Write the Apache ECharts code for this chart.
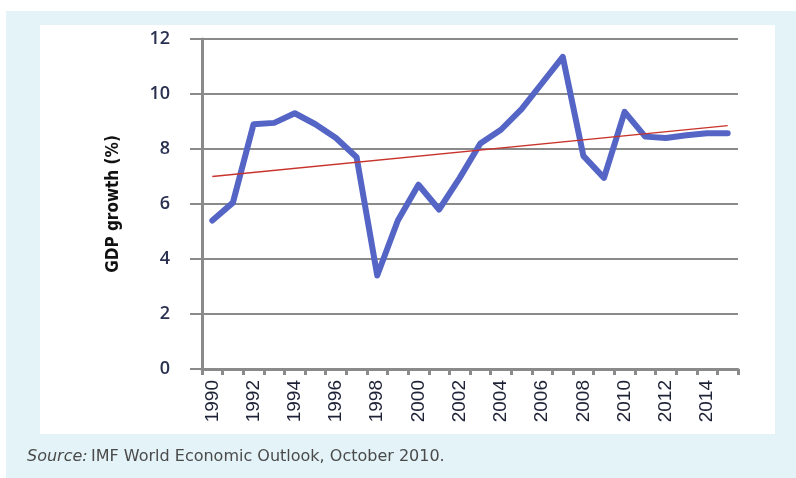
<!DOCTYPE html>
<html>
<head>
<meta charset="utf-8">
<script src="https://cdn.jsdelivr.net/npm/echarts@6/dist/echarts.min.js"></script>
<style>
  html, body { margin: 0; padding: 0; background: #fff; }
  #chart { width: 796px; height: 478px; }
</style>
</head>
<body>
<div id="chart"></div>
<script>
// years on the x axis
var years = ['1990','1991','1992','1993','1994','1995','1996','1997','1998','1999',
  '2000','2001','2002','2003','2004','2005','2006','2007','2008','2009',
  '2010','2011','2012','2013','2014','2015'];
// GDP growth (%)
var growth = [5.4, 6.05, 8.9, 8.95, 9.3, 8.9, 8.4, 7.7, 3.4, 5.4,
  6.7, 5.8, 6.95, 8.2, 8.7, 9.45, 10.4, 11.35, 7.75, 6.95,
  9.35, 8.45, 8.4, 8.5, 8.57, 8.57];
// trend line end points (first and last year)
var trendEnds = [7.0, 8.85];
var yTicks = [0, 2, 4, 6, 8, 10, 12];

var chart = echarts.init(document.getElementById('chart'));
var gridGrey = '#8a8a8a';

var option = {
  animation: false,
  backgroundColor: '#ffffff',
  graphic: [
    { type: 'rect', z: -10, shape: { x: 6, y: 11, width: 790, height: 467 }, style: { fill: '#e4f3f8' } },
    { type: 'rect', z: -9, shape: { x: 40, y: 25, width: 735, height: 409 }, style: { fill: '#ffffff' } },
    {
      type: 'text', left: 27, top: 449,
      style: {
        rich: {
          i: { fontStyle: 'italic', fontFamily: 'DejaVu Sans', fontSize: 16, fill: '#4a4a4a' },
          n: { fontFamily: 'DejaVu Sans', fontSize: 16, fill: '#4a4a4a' }
        },
        text: '{i|Source:} {n|IMF World Economic Outlook, October 2010.}'
      }
    }
  ],
  grid: { left: 202, right: 58, top: 39, bottom: 109 },
  xAxis: {
    type: 'category',
    data: years,
    boundaryGap: true,
    axisLine: { lineStyle: { color: gridGrey, width: 3 } },
    axisTick: { show: true, interval: 0, length: 6, lineStyle: { color: gridGrey, width: 3 } },
    axisLabel: {
      interval: 1, rotate: 90, margin: 11,
      fontFamily: 'Liberation Sans', fontSize: 19, color: '#1e2236'
    }
  },
  yAxis: {
    type: 'value',
    min: yTicks[0], max: yTicks[yTicks.length - 1], interval: 2,
    name: 'GDP growth (%)',
    nameLocation: 'middle',
    nameGap: 80,
    nameTextStyle: { fontFamily: 'DejaVu Sans Condensed', fontWeight: 'bold', fontSize: 17, color: '#111' },
    axisLine: { show: true, lineStyle: { color: gridGrey, width: 3 } },
    axisTick: { show: true, length: 12, lineStyle: { color: gridGrey, width: 2 } },
    axisLabel: { margin: 32, fontFamily: 'Open Sans', fontWeight: 600, fontSize: 18, color: '#2a3050' },
    splitLine: { lineStyle: { color: gridGrey, width: 2 } }
  },
  series: [
    {
      type: 'line',
      data: growth,
      symbol: 'none',
      lineStyle: { color: '#5565c6', width: 6, join: 'round', cap: 'round' },
      z: 3
    },
    {
      type: 'line',
      data: [[years[0], trendEnds[0]], [years[years.length - 1], trendEnds[1]]],
      symbol: 'none',
      lineStyle: { color: '#c8342c', width: 1.5 },
      z: 4
    }
  ]
};
chart.setOption(option);
</script>
</body>
</html>
